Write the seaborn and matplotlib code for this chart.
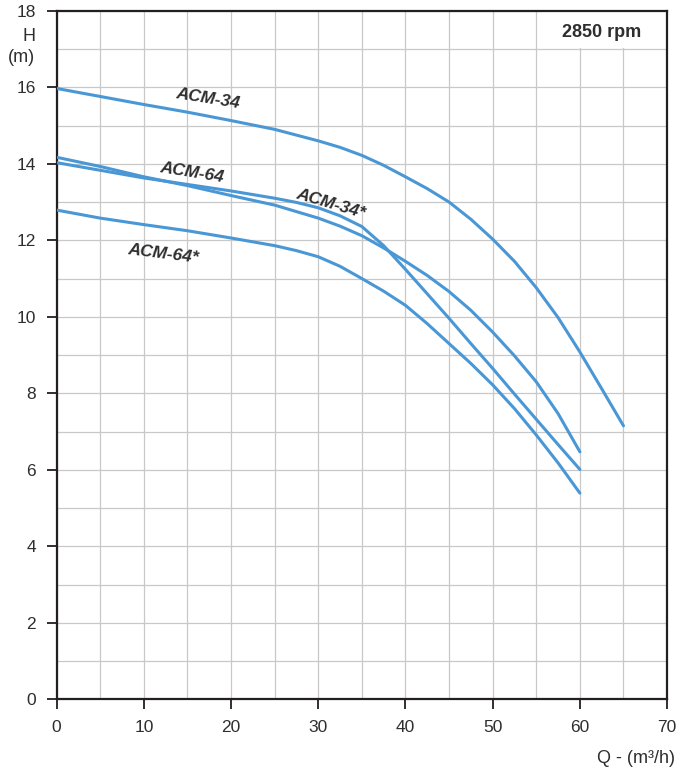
import numpy as np
import pandas as pd
import matplotlib
matplotlib.use("Agg")
import matplotlib.pyplot as plt
from matplotlib.patches import Rectangle
from matplotlib.ticker import MultipleLocator
import seaborn as sns

# ---- data ----
q_acm34 = [0, 5, 10, 15, 20, 25, 30, 32.5, 35, 37.5, 40, 42.5, 45, 47.5, 50,
           52.5, 55, 57.5, 60, 62.5, 65]
h_acm34 = [15.97, 15.76, 15.55, 15.35, 15.13, 14.9, 14.6, 14.43, 14.22, 13.96,
           13.66, 13.35, 13.0, 12.55, 12.03, 11.45, 10.76, 9.98, 9.08, 8.12, 7.15]

q_acm64 = [0, 5, 10, 15, 20, 25, 30, 32.5, 35, 37.5, 40, 42.5, 45, 47.5, 50,
           52.5, 55, 57.5, 60]
h_acm64 = [14.17, 13.93, 13.66, 13.43, 13.17, 12.92, 12.58, 12.37, 12.12, 11.8,
           11.45, 11.08, 10.66, 10.17, 9.6, 8.98, 8.3, 7.47, 6.47]

q_acm34s = [0, 5, 10, 15, 20, 25, 27.5, 30, 32.5, 35, 37.5, 40, 42.5, 45, 47.5,
            50, 52.5, 55, 57.5, 60]
h_acm34s = [14.03, 13.83, 13.63, 13.46, 13.29, 13.1, 12.99, 12.85, 12.64, 12.36,
            11.86, 11.24, 10.6, 9.96, 9.3, 8.65, 7.98, 7.32, 6.66, 6.01]

q_acm64s = [0, 5, 10, 15, 20, 25, 27.5, 30, 32.5, 35, 37.5, 40, 42.5, 45, 47.5,
            50, 52.5, 55, 57.5, 60]
h_acm64s = [12.79, 12.58, 12.41, 12.25, 12.06, 11.86, 11.73, 11.57, 11.32, 11.0,
            10.67, 10.3, 9.82, 9.3, 8.78, 8.22, 7.6, 6.91, 6.18, 5.39]

curve_names = ["ACM-34", "ACM-64", "ACM-34*", "ACM-64*"]
label_text = ["ACM-34", "ACM-64", "ACM-34*", "ACM-64*"]
label_q = [17.3, 15.5, 31.4, 12.25]
label_h = [15.71, 13.77, 12.95, 11.64]
label_rot = [-9, -9, -16.5, -7]

x_ticks = [0, 10, 20, 30, 40, 50, 60, 70]
y_ticks = [0, 2, 4, 6, 8, 10, 12, 14, 16, 18]
speed_text = "2850 rpm"
x_title = "Q - (m³/h)"
y_title_1 = "H"
y_title_2 = "(m)"

# ---- build table ----
frames = []
for name, q, h in zip(curve_names,
                      [q_acm34, q_acm64, q_acm34s, q_acm64s],
                      [h_acm34, h_acm64, h_acm34s, h_acm64s]):
    frames.append(pd.DataFrame({"Q": q, "H": h, "model": name}))
df = pd.concat(frames, ignore_index=True)

# ---- style ----
sns.set_theme(style="white")
plt.rcParams["font.family"] = ["Liberation Sans", "DejaVu Sans"]
TXT = "#2e2e2e"
LINE = "#4a97d6"
GRID = "#c8c8c8"

fig = plt.figure(figsize=(6.78, 7.71), dpi=100)
ax = fig.add_axes([0.0835, 0.0930, 0.9004, 0.8930])

sns.lineplot(data=df, x="Q", y="H", hue="model", units="model",
             estimator=None, sort=False,
             palette={n: LINE for n in curve_names},
             linewidth=2.2, legend=False, ax=ax, zorder=3)

ax.set_xlim(0, 70)
ax.set_ylim(0, 18)
ax.set_xticks(x_ticks)
ax.set_yticks(y_ticks)
ax.xaxis.set_minor_locator(MultipleLocator(5))
ax.yaxis.set_minor_locator(MultipleLocator(1))
ax.set_axisbelow(True)
ax.grid(which="both", color=GRID, linewidth=0.9)
ax.tick_params(which="major", direction="out", length=7, width=1.3,
               color="#231f20", pad=8, labelsize=12.5, labelcolor=TXT,
               bottom=True, left=True)
ax.tick_params(which="minor", length=0)
for s in ax.spines.values():
    s.set_color("#231f20")
    s.set_linewidth(1.6)
    s.set_visible(True)
ax.set_xlabel("")
ax.set_ylabel("")

# white box behind speed label
ax.add_patch(Rectangle((55.5, 17.04), 14.5, 0.96, facecolor="white",
                       edgecolor="none", zorder=1))
ax.text(62.55, 17.31, speed_text, ha="center", va="baseline",
        fontsize=13, fontweight="bold", color=TXT, zorder=4)

for t, q, h, r in zip(label_text, label_q, label_h, label_rot):
    ax.text(q, h, t, ha="center", va="center", rotation=r,
            rotation_mode="anchor", fontsize=12.5, fontweight="bold",
            fontstyle="italic", color=TXT, zorder=4)

fig.text(35 / 678, 1 - 40.7 / 771, y_title_1, ha="right", va="baseline",
         fontsize=13, color=TXT)
fig.text(35 / 678, 1 - 61.5 / 771, y_title_2, ha="right", va="baseline",
         fontsize=13, color=TXT)
fig.text(675 / 678, 1 - 763 / 771, x_title, ha="right", va="baseline",
         fontsize=13, color=TXT)

fig.savefig("out.png", dpi=100, facecolor="white")
